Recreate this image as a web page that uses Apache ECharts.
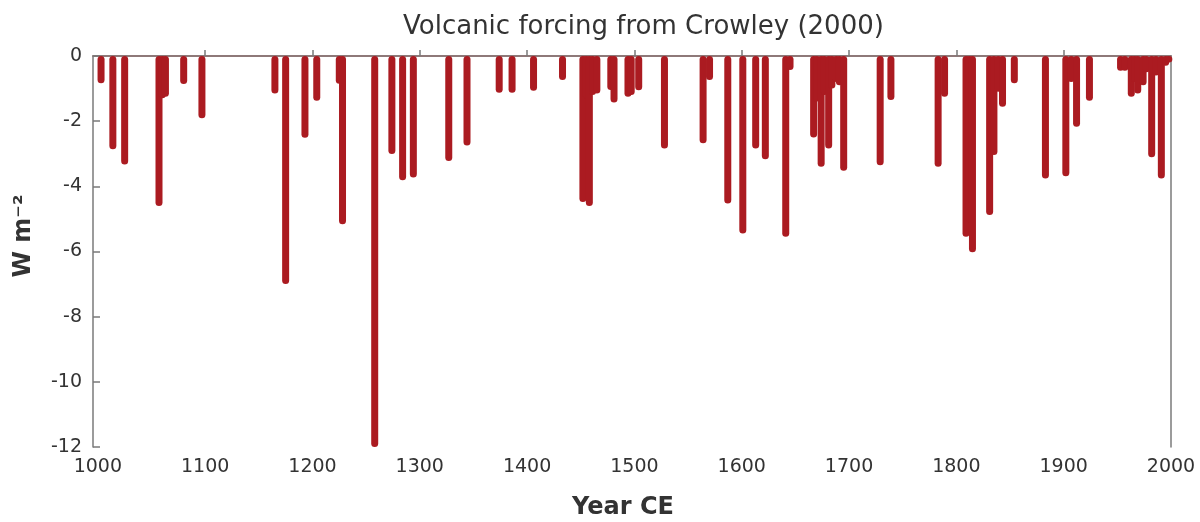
<!DOCTYPE html>
<html>
<head>
<meta charset="utf-8">
<script src="https://cdn.jsdelivr.net/npm/echarts@6/dist/echarts.min.js"></script>
<style>
html,body{margin:0;padding:0;background:#fff;}
#chart{width:1200px;height:522px;}
</style>
</head>
<body>
<div id="chart"></div>
<script>
// Eruption years and their forcing (W m^-2)
const years = [
  1003, 1014, 1025, 1057, 1060, 1063, 1080, 1097,
  1165, 1175, 1193, 1204, 1225, 1228, 1258,
  1274, 1284, 1294, 1327, 1344, 1374, 1386, 1406, 1433,
  1452, 1455, 1458, 1461, 1465, 1478, 1481, 1494, 1497, 1504,
  1528, 1564, 1570, 1587, 1601, 1613, 1622, 1641, 1645,
  1667, 1670, 1674, 1677, 1681, 1684, 1688, 1691, 1695,
  1729, 1739, 1783, 1789, 1809, 1812, 1815, 1831, 1835, 1839, 1843, 1854,
  1883, 1902, 1907, 1912, 1924,
  1953, 1957, 1963, 1966, 1969, 1974, 1977, 1982, 1986, 1991, 1995, 1998
];
const forcing = [
  -0.84, -2.86, -3.33, -4.6, -1.3, -1.25, -0.86, -1.91,
  -1.15, -7.0, -2.51, -1.37, -0.85, -5.16, -12.0,
  -3.01, -3.81, -3.73, -3.22, -2.75, -1.13, -1.13, -1.07, -0.74,
  -4.48, -1.3, -4.6, -1.2, -1.15, -1.04, -1.43, -1.25, -1.2, -1.05,
  -2.84, -2.68, -0.74, -4.53, -5.45, -2.84, -3.17, -5.55, -0.43,
  -2.5, -1.4, -3.4, -1.2, -2.84, -1.0, -0.8, -0.9, -3.52,
  -3.35, -1.35, -3.4, -1.25, -5.55, -5.1, -6.02, -4.88, -3.04, -1.1, -1.56, -0.84,
  -3.76, -3.69, -0.8, -2.17, -1.37,
  -0.45, -0.45, -1.25, -0.8, -1.15, -0.9, -0.5, -3.11, -0.6, -3.76, -0.3, -0.2
];
const xLabelYears = [1000, 1100, 1200, 1300, 1400, 1500, 1600, 1700, 1800, 1900, 2000];
const xTickYears = [1100, 1200, 1300, 1400, 1500, 1600, 1700, 1800, 1900];
const yMin = -12, yMax = 0, yStep = 2;

const FONT = 'DejaVu Sans';
const chart = echarts.init(document.getElementById('chart'), null, {renderer: 'canvas'});
const data = years.map((y, i) => [y, forcing[i]]);

const axisColor = '#7a7a7a';
chart.setOption({
  animation: false,
  backgroundColor: '#ffffff',
  title: {
    text: 'Volcanic forcing from Crowley (2000)',
    left: 398,
    top: 9,
    textStyle: {fontFamily: FONT, fontSize: 26, fontWeight: 'normal', color: '#333'}
  },
  grid: {left: 93, right: 29, top: 56, bottom: 75, containLabel: false, outerBoundsMode: 'none'},
  xAxis: [{
    type: 'value', position: 'bottom', min: 995.5, max: 2000,
    name: 'Year CE', nameLocation: 'middle', nameGap: 49,
    nameTextStyle: {fontFamily: FONT, fontSize: 24, fontWeight: 'bold', color: '#333', padding: [0, 18, 0, 0]},
    axisLine: {show: true, lineStyle: {color: axisColor, width: 1.5}},
    axisTick: {show: true, inside: true, length: 6, customValues: xTickYears, lineStyle: {color: axisColor, width: 1.5}},
    axisLabel: {customValues: xLabelYears, margin: 11, fontFamily: FONT, fontSize: 19, color: '#333',
      formatter: v => String(Math.round(v))},
    splitLine: {show: false}
  }, {
    type: 'value', position: 'top', min: 995.5, max: 2000,
    axisLine: {show: true, onZero: false, lineStyle: {color: '#8a6f6f', width: 1.5}},
    axisTick: {show: false}, axisLabel: {show: false}, splitLine: {show: false}
  }],
  yAxis: [{
    type: 'value', position: 'left', min: yMin, max: yMax, interval: yStep,
    axisLine: {show: true, onZero: false, lineStyle: {color: axisColor, width: 1.5}},
    axisTick: {show: true, inside: true, length: 7, lineStyle: {color: axisColor, width: 1.5}},
    axisLabel: {margin: 11, fontFamily: FONT, fontSize: 19, color: '#333'},
    splitLine: {show: false}
  }, {
    type: 'value', position: 'right', min: yMin, max: yMax, interval: yStep,
    axisLine: {show: true, onZero: false, lineStyle: {color: axisColor, width: 1.5}},
    axisTick: {show: false}, axisLabel: {show: false}, splitLine: {show: false}
  }],
  graphic: [{
    type: 'text',
    x: 24, y: 236,
    rotation: Math.PI / 2,
    style: {
      text: 'W m\u207B\u00B2',
      fontFamily: FONT, fontSize: 24, fontWeight: 'bold', fill: '#333',
      align: 'center', verticalAlign: 'middle'
    }
  }],
  series: [{
    type: 'bar',
    xAxisIndex: 0, yAxisIndex: 0,
    data: data,
    barWidth: 7,
    itemStyle: {color: '#AB1B21', borderRadius: 3.5},
    z: 3
  }]
});
</script>
</body>
</html>
